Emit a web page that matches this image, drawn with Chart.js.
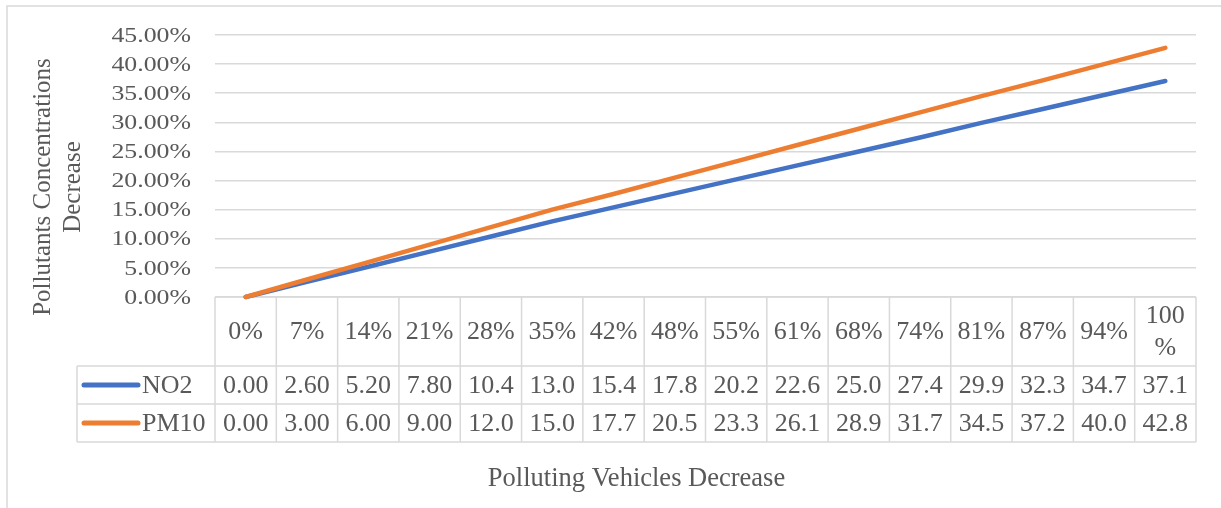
<!DOCTYPE html>
<html>
<head>
<meta charset="utf-8">
<script src="https://cdn.jsdelivr.net/npm/chart.js@4/dist/chart.umd.min.js"></script>
<style>
  html, body { margin: 0; padding: 0; background: #fff; }
  #wrap { width: 1221px; height: 508px; }
</style>
</head>
<body>
<div id="wrap"><canvas id="c" width="1221" height="508"></canvas></div>
<script>
// Share of polluting vehicles removed
const categories = ['0%', '7%', '14%', '21%', '28%', '35%', '42%', '48%', '55%', '61%', '68%', '74%', '81%', '87%', '94%', '100%'];
// Concentration decrease (%) per pollutant
const no2Values  = [0.00, 2.60, 5.20, 7.80, 10.4, 13.0, 15.4, 17.8, 20.2, 22.6, 25.0, 27.4, 29.9, 32.3, 34.7, 37.1];
const pm10Values = [0.00, 3.00, 6.00, 9.00, 12.0, 15.0, 17.7, 20.5, 23.3, 26.1, 28.9, 31.7, 34.5, 37.2, 40.0, 42.8];
const seriesNames = ['NO2', 'PM10'];
const yAxisTitle = ['Pollutants Concentrations', 'Decrease'];
const xAxisTitle = 'Polluting Vehicles Decrease';

const TEXT = '#595959';
const GRID = '#D9D9D9';
const BLUE = '#4472C4';
const ORANGE = '#ED7D31';
const SERIF = '"Liberation Serif", "Times New Roman", serif';

function fmtCell(v) {
  return v < 10 ? v.toFixed(2) : v.toFixed(1);
}

// Frame, axis labels, data table and titles
const decorations = {
  id: 'decorations',
  beforeDraw(chart) {
    const ctx = chart.ctx;
    ctx.save();
    ctx.fillStyle = '#fff';
    ctx.fillRect(0, 0, chart.width, chart.height);
    ctx.strokeStyle = GRID;
    ctx.lineWidth = 1.5;
    ctx.beginPath();
    ctx.moveTo(7, chart.height);
    ctx.lineTo(7, 6);
    ctx.lineTo(chart.width, 6);
    ctx.stroke();
    ctx.restore();
  },
  beforeDatasetsDraw(chart) {
    const ctx = chart.ctx;
    const area = chart.chartArea;
    const xs = chart.scales.x;
    const ys = chart.scales.y;
    const left = area.left, right = area.right, top = area.bottom;
    const colW = (right - left) / categories.length;
    const headerBottom = top + 69;
    const row1Bottom = headerBottom + 38;
    const row2Bottom = row1Bottom + 38;
    const legendLeft = 77;

    ctx.save();
    // y tick labels
    ctx.fillStyle = TEXT;
    ctx.font = '21.5px ' + SERIF;
    ctx.textAlign = 'right';
    ctx.textBaseline = 'middle';
    ys.ticks.forEach(t => {
      const y = ys.getPixelForValue(t.value);
      ctx.save();
      ctx.translate(191, y + 1);
      ctx.scale(1.2, 1);
      ctx.fillText(t.value.toFixed(2) + '%', 0, 0);
      ctx.restore();
    });

    // table grid
    ctx.strokeStyle = GRID;
    ctx.lineWidth = 1.5;
    ctx.beginPath();
    ctx.moveTo(left, top); ctx.lineTo(right, top);
    [headerBottom, row1Bottom, row2Bottom].forEach(y => { ctx.moveTo(legendLeft, y); ctx.lineTo(right, y); });
    ctx.moveTo(legendLeft, headerBottom); ctx.lineTo(legendLeft, row2Bottom);
    for (let i = 0; i <= categories.length; i++) {
      const x = left + i * colW;
      ctx.moveTo(x, top); ctx.lineTo(x, row2Bottom);
    }
    ctx.stroke();

    // header: categories
    ctx.font = '26px ' + SERIF;
    ctx.textAlign = 'center';
    ctx.textBaseline = 'middle';
    const headerMid = (top + headerBottom) / 2 + 1;
    categories.forEach((c, i) => {
      const x = xs.getPixelForValue(i);
      if (ctx.measureText(c).width > colW - 8) {
        const num = c.replace('%', '');
        ctx.fillText(num, x, headerMid - 16);
        ctx.fillText('%', x, headerMid + 16);
      } else {
        ctx.fillText(c, x, headerMid);
      }
    });

    // value rows with legend keys
    const rows = [
      { name: seriesNames[0], color: BLUE, values: no2Values, mid: (headerBottom + row1Bottom) / 2 + 1 },
      { name: seriesNames[1], color: ORANGE, values: pm10Values, mid: (row1Bottom + row2Bottom) / 2 + 1 }
    ];
    rows.forEach(r => {
      ctx.strokeStyle = r.color;
      ctx.lineWidth = 5;
      ctx.lineCap = 'round';
      ctx.beginPath();
      ctx.moveTo(84, r.mid - 1);
      ctx.lineTo(138, r.mid - 1);
      ctx.stroke();
      ctx.textAlign = 'left';
      ctx.fillText(r.name, 142, r.mid);
      ctx.textAlign = 'center';
      r.values.forEach((v, i) => {
        ctx.fillText(fmtCell(v), xs.getPixelForValue(i), r.mid);
      });
    });

    // axis titles
    ctx.font = '26.5px ' + SERIF;
    ctx.textAlign = 'center';
    ctx.fillText(xAxisTitle, (legendLeft + right) / 2, 479);
    ctx.font = '25px ' + SERIF;
    ctx.save();
    ctx.translate(58, 187);
    ctx.rotate(-Math.PI / 2);
    ctx.fillText(yAxisTitle[0], 0, -15);
    ctx.fillText(yAxisTitle[1], 0, 15);
    ctx.restore();
    ctx.restore();
  }
};

new Chart(document.getElementById('c'), {
  type: 'line',
  data: {
    labels: categories,
    datasets: [
      {
        label: seriesNames[0], data: no2Values, order: 2,
        borderColor: BLUE, backgroundColor: BLUE, borderWidth: 4.5,
        borderCapStyle: 'round', borderJoinStyle: 'round',
        pointRadius: 0, tension: 0, clip: false
      },
      {
        label: seriesNames[1], data: pm10Values, order: 1,
        borderColor: ORANGE, backgroundColor: ORANGE, borderWidth: 4.5,
        borderCapStyle: 'round', borderJoinStyle: 'round',
        pointRadius: 0, tension: 0, clip: false
      }
    ]
  },
  options: {
    responsive: false,
    animation: false,
    devicePixelRatio: 1,
    layout: { padding: { left: 0, top: 35, right: 25, bottom: 211 } },
    plugins: { legend: { display: false }, tooltip: { enabled: false } },
    scales: {
      x: { type: 'category', offset: true, display: false },
      y: {
        min: 0, max: 45,
        ticks: { stepSize: 5, display: false },
        grid: { color: GRID, lineWidth: 1.5, drawTicks: false },
        border: { display: false },
        afterFit(scale) { scale.width = 215; }
      }
    }
  },
  plugins: [decorations]
});
</script>
</body>
</html>
